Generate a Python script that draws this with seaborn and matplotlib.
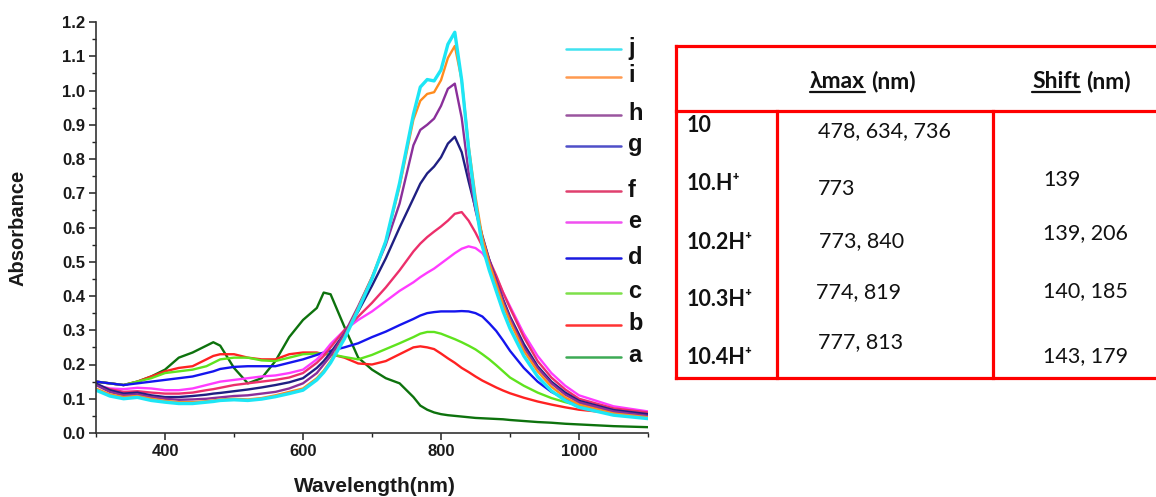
import matplotlib
matplotlib.use("Agg")
import matplotlib.pyplot as plt
from matplotlib.lines import Line2D
from matplotlib.ticker import MultipleLocator, FormatStrFormatter
import seaborn as sns
import pandas as pd

# ---------------- data ----------------
wavelength = [300, 320, 340, 360, 380, 400, 420, 440, 460, 470, 480, 500, 520, 540, 560,
              580, 600, 620, 630, 640, 660, 680, 700, 720, 740, 760, 770, 780, 790, 800,
              810, 820, 830, 840, 850, 860, 870, 880, 890, 900, 920, 940, 960, 980, 1000,
              1050, 1100]

a = [0.15, 0.145, 0.14, 0.15, 0.165, 0.185, 0.22, 0.235, 0.255, 0.265, 0.255, 0.19, 0.145, 0.16, 0.21,
     0.28, 0.33, 0.365, 0.41, 0.405, 0.31, 0.22, 0.185, 0.16, 0.145, 0.105, 0.08, 0.068, 0.06, 0.055,
     0.052, 0.05, 0.048, 0.046, 0.044, 0.043, 0.042, 0.041, 0.04, 0.038, 0.035, 0.032, 0.03, 0.027, 0.025,
     0.02, 0.017]
b = [0.15, 0.145, 0.14, 0.15, 0.165, 0.18, 0.19, 0.195, 0.215, 0.225, 0.23, 0.23, 0.22, 0.215, 0.215,
     0.23, 0.235, 0.235, 0.23, 0.23, 0.22, 0.203, 0.2, 0.21, 0.23, 0.25, 0.253, 0.25, 0.245, 0.232,
     0.218, 0.205, 0.19, 0.178, 0.165, 0.153, 0.143, 0.133, 0.124, 0.116, 0.103, 0.092, 0.083, 0.075, 0.068,
     0.058, 0.052]
c = [0.15, 0.145, 0.14, 0.15, 0.16, 0.175, 0.18, 0.185, 0.195, 0.205, 0.215, 0.22, 0.22, 0.212, 0.21,
     0.22, 0.23, 0.232, 0.232, 0.23, 0.222, 0.215, 0.228, 0.245, 0.262, 0.28, 0.29, 0.295, 0.295, 0.29,
     0.282, 0.274, 0.265, 0.255, 0.244, 0.23, 0.215, 0.198, 0.18, 0.162, 0.138, 0.118, 0.102, 0.09, 0.08,
     0.062, 0.052]
d = [0.15, 0.145, 0.14, 0.145, 0.15, 0.155, 0.16, 0.165, 0.175, 0.18, 0.187, 0.193, 0.195, 0.195, 0.195,
     0.205, 0.215, 0.228, 0.235, 0.24, 0.25, 0.262, 0.28, 0.296, 0.315, 0.333, 0.343, 0.35, 0.353, 0.355,
     0.355, 0.355, 0.356, 0.355, 0.35, 0.34, 0.32, 0.298, 0.27, 0.24, 0.19, 0.15, 0.12, 0.1, 0.085,
     0.065, 0.055]
e = [0.14, 0.13, 0.128, 0.132, 0.13, 0.125, 0.125, 0.13, 0.14, 0.145, 0.15, 0.155, 0.16, 0.165, 0.168,
     0.175, 0.185, 0.215, 0.235, 0.26, 0.3, 0.33, 0.355, 0.385, 0.415, 0.44, 0.455, 0.468, 0.48, 0.495,
     0.51, 0.525, 0.538, 0.545, 0.54, 0.525, 0.495, 0.455, 0.41, 0.37, 0.29, 0.225, 0.175, 0.138, 0.11,
     0.078, 0.063]
f = [0.14, 0.128, 0.12, 0.122, 0.118, 0.115, 0.115, 0.118, 0.125, 0.128, 0.132, 0.14, 0.145, 0.15, 0.155,
     0.162, 0.175, 0.205, 0.225, 0.25, 0.3, 0.34, 0.38, 0.425, 0.475, 0.53, 0.553, 0.572, 0.588, 0.603,
     0.62, 0.64, 0.645, 0.62, 0.585, 0.545, 0.505, 0.46, 0.41, 0.365, 0.28, 0.21, 0.162, 0.127, 0.1,
     0.072, 0.06]
g = [0.145, 0.125, 0.115, 0.118, 0.11, 0.105, 0.105, 0.108, 0.112, 0.115, 0.117, 0.122, 0.127, 0.133, 0.14,
     0.148, 0.16, 0.19, 0.21, 0.235, 0.29, 0.355, 0.43, 0.51, 0.6, 0.685, 0.728, 0.758, 0.778, 0.805,
     0.845, 0.865, 0.82, 0.735, 0.655, 0.575, 0.505, 0.445, 0.39, 0.34, 0.26, 0.195, 0.15, 0.118, 0.094,
     0.067, 0.055]
h = [0.14, 0.12, 0.11, 0.113, 0.105, 0.1, 0.097, 0.098, 0.1, 0.102, 0.104, 0.108, 0.11, 0.115, 0.12,
     0.13, 0.145, 0.175, 0.2, 0.225, 0.29, 0.37, 0.455, 0.55, 0.67, 0.84, 0.885, 0.9, 0.918, 0.955,
     1.005, 1.02, 0.92, 0.76, 0.65, 0.57, 0.505, 0.445, 0.385, 0.335, 0.25, 0.19, 0.145, 0.112, 0.09,
     0.063, 0.05]
i = [0.13, 0.113, 0.105, 0.108, 0.1, 0.094, 0.09, 0.09, 0.093, 0.095, 0.098, 0.1, 0.098, 0.102, 0.11,
     0.12, 0.13, 0.16, 0.182, 0.21, 0.28, 0.365, 0.455, 0.56, 0.72, 0.915, 0.97, 0.99, 0.995, 1.03,
     1.095, 1.13, 1.03, 0.84, 0.69, 0.57, 0.495, 0.435, 0.375, 0.325, 0.24, 0.18, 0.135, 0.104, 0.083,
     0.057, 0.046]
j = [0.125, 0.108, 0.1, 0.104, 0.095, 0.09, 0.086, 0.086, 0.09, 0.092, 0.095, 0.097, 0.095, 0.099, 0.106,
     0.115, 0.125, 0.155, 0.177, 0.205, 0.275, 0.36, 0.45, 0.56, 0.73, 0.93, 1.01, 1.032, 1.028, 1.06,
     1.135, 1.17, 1.03, 0.83, 0.67, 0.545, 0.475, 0.415, 0.355, 0.305, 0.225, 0.165, 0.123, 0.095, 0.075,
     0.052, 0.042]

series_names = ["a", "b", "c", "d", "e", "f", "g", "h", "i", "j"]
series_values = [a, b, c, d, e, f, g, h, i, j]
line_colors = ["#0d720d", "#ff2222", "#5fe31e", "#1515ee", "#ff3cff",
               "#ec2f6b", "#1f1f82", "#8a2f9a", "#ff8c1e", "#1de6f5"]
legend_colors = ["#3daa55", "#ff3333", "#7ee04a", "#1a1ae0", "#f050f0",
                 "#e0406e", "#4f4fc8", "#9a559f", "#ff9a50", "#40e2f0"]
legend_order = ["j", "i", "h", "g", "f", "e", "d", "c", "b", "a"]

table_header = ["\u03bbmax", "Shift"]
row_labels = ["10", "10.H\u207a", "10.2H\u207a", "10.3H\u207a", "10.4H\u207a"]
lambda_max = ["478, 634, 736", "773", "773, 840", "774, 819", "777, 813"]
shift_vals = ["", "139", "139, 206", "140, 185", "143, 179"]

# ---------------- figure ----------------
W, H = 1156, 497
sns.set_style("white")
plt.rcParams["font.family"] = ["Liberation Sans", "DejaVu Sans"]

fig = plt.figure(figsize=(W / 100, H / 100), dpi=100)


def fx(px):
    return px / W


def fy(py):
    return 1 - py / H


ax = fig.add_axes([fx(96), fy(433), (648 - 96) / W, (433 - 22) / H])

rows = []
for name, vals in zip(series_names, series_values):
    for x, y in zip(wavelength, vals):
        rows.append({"Wavelength": x, "Absorbance": y, "sample": name})
df = pd.DataFrame(rows)

palette = dict(zip(series_names, line_colors))
sns.lineplot(data=df, x="Wavelength", y="Absorbance", hue="sample",
             hue_order=series_names, palette=palette, estimator=None,
             sort=False, legend=False, linewidth=1.7, ax=ax)
for ln in ax.get_lines():
    ln.set_solid_joinstyle("round")
    if ln.get_color().lower() == "#1de6f5":
        ln.set_linewidth(2.4)

ax.set_xlim(300, 1100)
ax.set_ylim(0, 1.2)
ax.set_xlabel("")
ax.set_ylabel("")
ax.xaxis.set_major_locator(MultipleLocator(200))
ax.xaxis.set_minor_locator(MultipleLocator(100))
ax.yaxis.set_major_locator(MultipleLocator(0.1))
ax.yaxis.set_minor_locator(MultipleLocator(0.05))
ax.yaxis.set_major_formatter(FormatStrFormatter("%.1f"))
ax.tick_params(which="major", direction="out", length=5, width=1.1, colors="#222222",
               labelsize=12, pad=3)
ax.tick_params(which="minor", direction="out", length=3, width=1.0, colors="#222222")
ax.tick_params(axis="both", which="both", bottom=True, left=True)
for lab in ax.get_xticklabels() + ax.get_yticklabels():
    lab.set_fontweight("bold")
    lab.set_color("#1a1a1a")
for s in ["top", "right"]:
    ax.spines[s].set_visible(False)
for s in ["left", "bottom"]:
    ax.spines[s].set_linewidth(1.2)
    ax.spines[s].set_color("#333333")

fig.text(fx(18), fy(228), "Absorbance", rotation=90, ha="center", va="center",
         fontsize=14.5, fontweight="bold", color="#1a1a1a")
fig.text(fx(375), fy(487), "Wavelength(nm)", ha="center", va="center",
         fontsize=15, fontweight="bold", color="#1a1a1a")

# legend (manual, as in the reference)
leg_y = [48, 76, 114, 145, 190, 221, 257, 292, 324, 356]
for name, yy in zip(legend_order, leg_y):
    k = series_names.index(name)
    fig.add_artist(Line2D([fx(566), fx(621)], [fy(yy + 1), fy(yy + 1)],
                          color=legend_colors[k], linewidth=1.8))
    fig.text(fx(628), fy(yy), name, ha="left", va="center", fontsize=17,
             fontweight="bold", color="#111111")

# ---------------- table ----------------
red = "#ff0000"
lw = 2.3


def hline(y, x0, x1):
    fig.add_artist(Line2D([fx(x0), fx(x1)], [fy(y), fy(y)], color=red, linewidth=lw,
                          solid_capstyle="projecting"))


def vline(x, y0, y1):
    fig.add_artist(Line2D([fx(x), fx(x)], [fy(y0), fy(y1)], color=red, linewidth=lw,
                          solid_capstyle="projecting"))


hline(46, 676, 1160)
hline(110.5, 676, 1160)
hline(378, 676, 1160)
vline(676, 46, 378)
vline(777, 110.5, 378)
vline(993, 110.5, 378)

tfam = ["Lato", "DejaVu Sans"]
tsize = 15.5
tcol = "#111111"

fig.canvas.draw()
renderer = fig.canvas.get_renderer()

header_x = [810, 1032]
for hx, htxt in zip(header_x, table_header):
    t1 = fig.text(fx(hx), fy(81), htxt, ha="left", va="center", fontsize=16.5,
                  fontweight="bold", family=tfam, color=tcol)
    bb = t1.get_window_extent(renderer=renderer)
    fig.text(bb.x1 / W + fx(6), fy(81), "(nm)", ha="left", va="center", fontsize=16.5,
             fontweight="bold", family=tfam, color=tcol)
    fig.add_artist(Line2D([bb.x0 / W, bb.x1 / W], [fy(92), fy(92)], color=tcol,
                          linewidth=1.6))

row_y = [125, 183, 242, 300, 358]
lam_y = [131, 189, 241, 292, 342]
lam_x = [818, 818, 819, 816, 818]
sh_y = [0, 180, 233, 291, 356]
for k in range(len(row_labels)):
    fig.text(fx(687), fy(row_y[k]), row_labels[k], ha="left", va="center",
             fontsize=tsize, fontweight="bold", family=tfam, color=tcol)
    fig.text(fx(lam_x[k]), fy(lam_y[k]), lambda_max[k], ha="left", va="center",
             fontsize=tsize, family=tfam, color=tcol)
    if shift_vals[k]:
        fig.text(fx(1043), fy(sh_y[k]), shift_vals[k], ha="left", va="center",
                 fontsize=tsize, family=tfam, color=tcol)

fig.savefig("out.png", dpi=100)
